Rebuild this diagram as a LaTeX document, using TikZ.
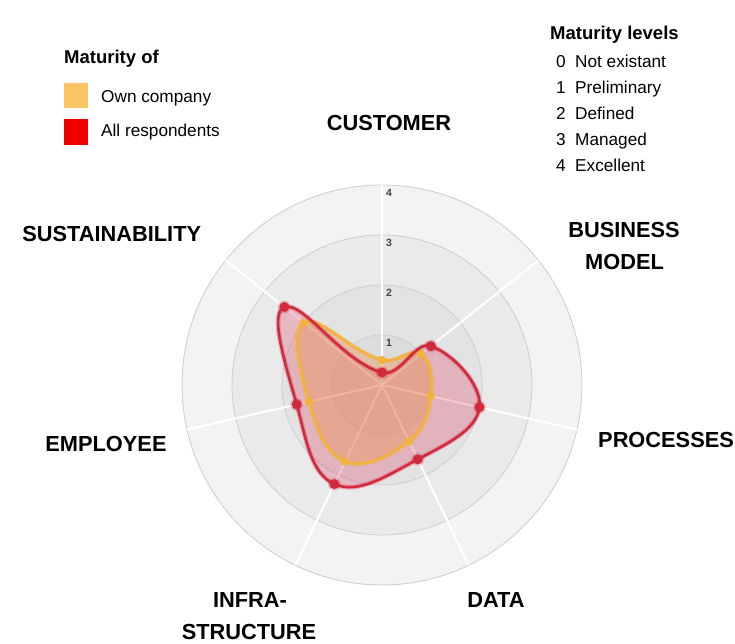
\documentclass[tikz,border=0pt]{standalone}
\usepackage{fontspec}
\setmainfont{Liberation Sans}
\definecolor{ringA}{HTML}{F3F3F3}
\definecolor{ringB}{HTML}{EAEAEA}
\definecolor{ringC}{HTML}{E3E3E3}
\definecolor{ringD}{HTML}{DCDCDC}
\definecolor{ringline}{HTML}{D0D0D0}
\definecolor{redline}{HTML}{D12A3E}
\definecolor{yelline}{HTML}{F3B23C}
\definecolor{redfill}{RGB}{215,30,70}
\definecolor{yelfill}{RGB}{238,150,88}
\definecolor{legorange}{HTML}{FCC463}
\definecolor{legred}{HTML}{F00000}
\definecolor{ticktext}{HTML}{444444}
\tikzset{
  axislabel/.style={font=\fontsize{21.8}{24}\selectfont\bfseries, inner sep=0pt, anchor=base},
  leghead/.style={font=\fontsize{18.5}{20}\selectfont\bfseries, inner sep=0pt, anchor=base west},
  legitem/.style={font=\fontsize{17.2}{20}\selectfont, inner sep=0pt, anchor=base west},
  ticklabel/.style={font=\fontsize{10.5}{12}\selectfont\bfseries, text=ticktext, inner sep=0pt, anchor=base west},
  spoke/.style={draw=white, line width=2pt},
  ringedge/.style={draw=ringline, line width=0.9pt},
  series/.style={line width=2.6pt, line join=round},
  halo/.style={line width=5pt, line join=round, draw opacity=0.25},
}
\begin{document}
\begin{tikzpicture}[x=1pt,y=1pt]
\useasboundingbox[fill=white] (0,0) rectangle (735,644);
\coordinate (C) at (382,259);
% rings
\fill[ringA] (C) circle (200pt);
\fill[ringB] (C) circle (150pt);
\fill[ringC] (C) circle (100pt);
\fill[ringD] (C) circle (50pt);
\foreach \r in {50,100,150,200} \draw[ringedge] (C) circle (\r pt);
% spokes
\foreach \k in {0,...,6} \draw[spoke] (C) -- ++({90-\k*360/7}:200pt);
\begin{scope}[shift={(382,259)}]
\path[save path=\redp] (0,12.5) .. controls (18.81,7.50) and (32.66,44.75) .. (48.86,38.97)
  .. controls (71.65,30.85) and (100.06,0.05) .. (97.49,-22.25)
  .. controls (94.84,-45.27) and (63.74,-59.54) .. (35.80,-74.33)
  .. controls (5.65,-90.29) and (-23.64,-110.02) .. (-47.73,-99.11)
  .. controls (-72.08,-88.08) and (-75.85,-52.95) .. (-85.31,-19.47)
  .. controls (-95.85,17.87) and (-113.26,72.12) .. (-97.73,77.94)
  .. controls (-79.13,84.91) and (-39.82,23.09) .. (0,12.5) -- cycle;
\path[save path=\yelp] (0,25) .. controls (14.71,21.09) and (29.79,38.06) .. (39.09,31.17)
  .. controls (49.29,23.61) and (50.97,5.11) .. (48.75,-11.13)
  .. controls (46.18,-29.88) and (41.76,-45.12) .. (27.12,-56.31)
  .. controls (7.50,-71.30) and (-17.25,-84.34) .. (-36.88,-76.58)
  .. controls (-57.35,-68.49) and (-65.37,-42.76) .. (-73.12,-16.69)
  .. controls (-81.89,12.81) and (-92.15,54.39) .. (-78.18,62.35)
  .. controls (-62.90,71.06) and (-32.20,33.56) .. (0,25) -- cycle;
% fills
\fill[redfill, fill opacity=0.24, use path=\redp];
\fill[yelfill, fill opacity=0.42, use path=\yelp];
% lines and points
\draw[halo, yelline, use path=\yelp];
\draw[series, yelline, use path=\yelp];
\foreach \a/\r in {90/25,38.571/50,-12.857/50,-64.286/62.5,-115.714/85,-167.143/75,141.429/100}
  \fill[yelline] (\a:\r pt) circle (4.2pt);
\draw[halo, redline, use path=\redp];
\draw[series, redline, use path=\redp];
\foreach \a/\r in {90/12.5,38.571/62.5,-12.857/100,-64.286/82.5,-115.714/110,-167.143/87.5,141.429/125}{
  \fill[redline, opacity=0.25] (\a:\r pt) circle (6.5pt);
  \fill[redline] (\a:\r pt) circle (5pt);
}
\end{scope}
% tick labels
\node[ticklabel] (t4) at (386,447) {4};
\node[ticklabel] (t3) at (386,397) {3};
\node[ticklabel] (t2) at (386,347) {2};
\node[ticklabel] (t1) at (386,297) {1};
% axis labels
\node[axislabel] (cust) at (389,513.4) {CUSTOMER};
\node[axislabel] (bus1) at (624,406.7) {BUSINESS};
\node[axislabel] (bus2) at (624.5,374) {MODEL};
\node[axislabel, anchor=base west] (proc) at (598,196) {PROCESSES};
\node[axislabel] (data) at (496,36) {DATA};
\node[axislabel] (inf1) at (250,36) {INFRA-};
\node[axislabel] (inf2) at (249,4) {STRUCTURE};
\node[axislabel] (empl) at (106,192.3) {EMPLOYEE};
\node[axislabel] (sust) at (111.7,402.3) {SUSTAINABILITY};
% left legend
\node[leghead] (mof) at (64,580) {Maturity of};
\fill[legorange] (64,536) rectangle (88,561.3);
\fill[legred] (64,499) rectangle (88,524.7);
\node[legitem] (own) at (101,541) {Own company};
\node[legitem] (allr) at (101,507.5) {All respondents};
% right legend
\node[leghead] (mlev) at (550,604) {Maturity levels};
\foreach \n/\t [count=\i from 0] in {0/Not existant,1/Preliminary,2/Defined,3/Managed,4/Excellent}{
  \node[legitem] (num\i) at (556,{576.5-26*\i}) {\n};
  \node[legitem] (lev\i) at (575,{576.5-26*\i}) {\t};
}
\end{tikzpicture}
\end{document}
